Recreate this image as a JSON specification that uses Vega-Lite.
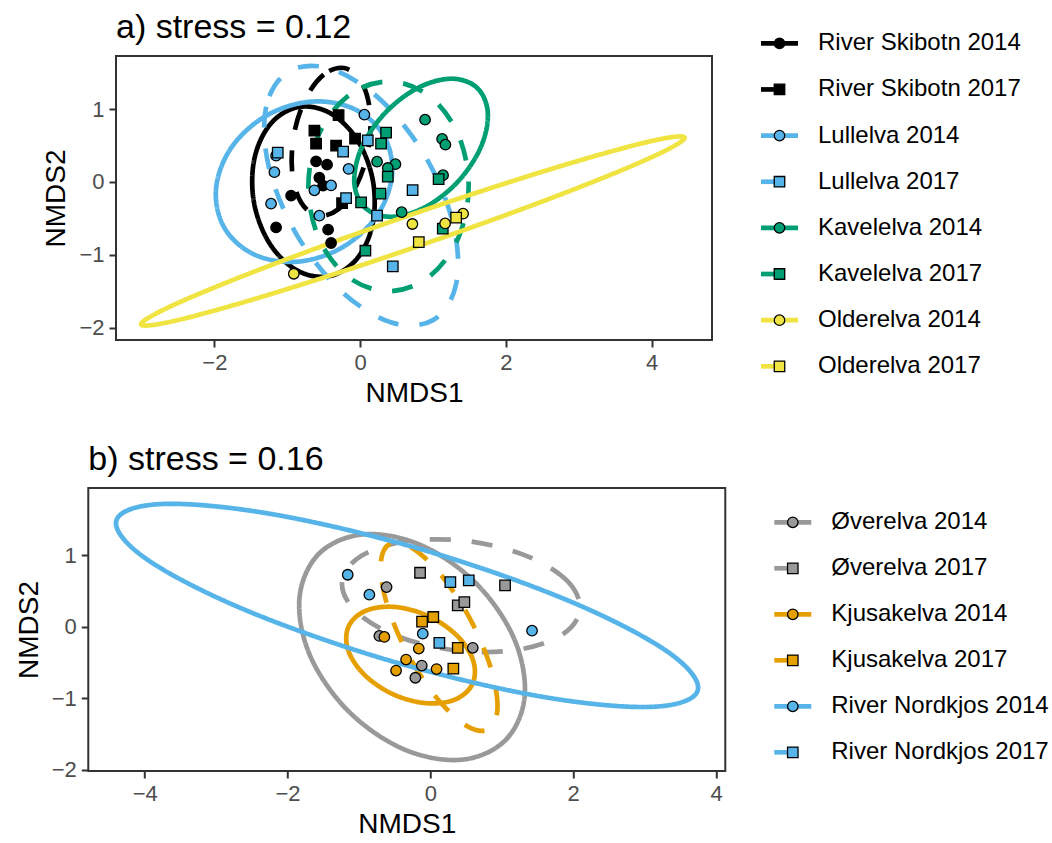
{
  "$schema": "https://vega.github.io/schema/vega-lite/v6.json",
  "background": "white",
  "padding": {"left": 14, "top": 10, "right": 2, "bottom": 3},
  "config": {
    "font": "Liberation Sans",
    "view": {"stroke": "#333333", "strokeWidth": 2},
    "axis": {
      "grid": false, "domain": false, "ticks": true,
      "tickColor": "#333333", "tickWidth": 2, "tickSize": 7,
      "labelColor": "#4D4D4D", "labelFontSize": 22, "labelPadding": 5,
      "titleFontSize": 28, "titleFontWeight": "normal", "titleColor": "black", "titlePadding": 6
    },
    "axisY": {"titlePadding": 8},
    "title": {"fontWeight": "normal", "color": "black", "anchor": "start", "frame": "group"}
  },
  "datasets": {
    "ellA": [
      {"g":"River Skibotn 2014","k":0,"x":-0.845,"y":1.029},{"g":"River Skibotn 2014","k":1,"x":-1.226,"y":0.801},{"g":"River Skibotn 2014","k":2,"x":-1.450,"y":0.323},{"g":"River Skibotn 2014","k":3,"x":-1.457,"y":-0.277},{"g":"River Skibotn 2014","k":4,"x":-1.245,"y":-0.839},{"g":"River Skibotn 2014","k":5,"x":-0.871,"y":-1.211},{"g":"River Skibotn 2014","k":6,"x":-0.435,"y":-1.295},{"g":"River Skibotn 2014","k":7,"x":-0.054,"y":-1.067},{"g":"River Skibotn 2014","k":8,"x":0.170,"y":-0.589},{"g":"River Skibotn 2014","k":9,"x":0.177,"y":0.011},{"g":"River Skibotn 2014","k":10,"x":-0.035,"y":0.573},{"g":"River Skibotn 2014","k":11,"x":-0.409,"y":0.945},
      {"g":"River Skibotn 2017","k":0,"x":-0.219,"y":1.565},{"g":"River Skibotn 2017","k":1,"x":-0.499,"y":1.474},{"g":"River Skibotn 2017","k":2,"x":-0.752,"y":1.136},{"g":"River Skibotn 2017","k":3,"x":-0.910,"y":0.641},{"g":"River Skibotn 2017","k":4,"x":-0.931,"y":0.122},{"g":"River Skibotn 2017","k":5,"x":-0.809,"y":-0.282},{"g":"River Skibotn 2017","k":6,"x":-0.577,"y":-0.463},{"g":"River Skibotn 2017","k":7,"x":-0.297,"y":-0.372},{"g":"River Skibotn 2017","k":8,"x":-0.044,"y":-0.034},{"g":"River Skibotn 2017","k":9,"x":0.114,"y":0.461},{"g":"River Skibotn 2017","k":10,"x":0.135,"y":0.980},{"g":"River Skibotn 2017","k":11,"x":0.013,"y":1.384},
      {"g":"Lullelva 2014","k":0,"x":0.325,"y":0.636},{"g":"Lullelva 2014","k":1,"x":-0.083,"y":1.003},{"g":"Lullelva 2014","k":2,"x":-0.674,"y":1.103},{"g":"Lullelva 2014","k":3,"x":-1.291,"y":0.908},{"g":"Lullelva 2014","k":4,"x":-1.768,"y":0.471},{"g":"Lullelva 2014","k":5,"x":-1.977,"y":-0.091},{"g":"Lullelva 2014","k":6,"x":-1.863,"y":-0.628},{"g":"Lullelva 2014","k":7,"x":-1.455,"y":-0.995},{"g":"Lullelva 2014","k":8,"x":-0.864,"y":-1.095},{"g":"Lullelva 2014","k":9,"x":-0.247,"y":-0.900},{"g":"Lullelva 2014","k":10,"x":0.230,"y":-0.463},{"g":"Lullelva 2014","k":11,"x":0.439,"y":0.099},
      {"g":"Lullelva 2017","k":0,"x":-0.973,"y":1.521},{"g":"Lullelva 2017","k":1,"x":-1.289,"y":1.033},{"g":"Lullelva 2017","k":2,"x":-1.255,"y":0.219},{"g":"Lullelva 2017","k":3,"x":-0.881,"y":-0.705},{"g":"Lullelva 2017","k":4,"x":-0.267,"y":-1.491},{"g":"Lullelva 2017","k":5,"x":0.421,"y":-1.927},{"g":"Lullelva 2017","k":6,"x":1.001,"y":-1.897},{"g":"Lullelva 2017","k":7,"x":1.317,"y":-1.409},{"g":"Lullelva 2017","k":8,"x":1.283,"y":-0.595},{"g":"Lullelva 2017","k":9,"x":0.909,"y":0.329},{"g":"Lullelva 2017","k":10,"x":0.295,"y":1.115},{"g":"Lullelva 2017","k":11,"x":-0.393,"y":1.551},
      {"g":"Kavelelva 2014","k":0,"x":1.605,"y":1.294},{"g":"Kavelelva 2014","k":1,"x":1.251,"y":1.418},{"g":"Kavelelva 2014","k":2,"x":0.786,"y":1.288},{"g":"Kavelelva 2014","k":3,"x":0.335,"y":0.939},{"g":"Kavelelva 2014","k":4,"x":0.018,"y":0.464},{"g":"Kavelelva 2014","k":5,"x":-0.079,"y":-0.009},{"g":"Kavelelva 2014","k":6,"x":0.069,"y":-0.354},{"g":"Kavelelva 2014","k":7,"x":0.423,"y":-0.478},{"g":"Kavelelva 2014","k":8,"x":0.888,"y":-0.348},{"g":"Kavelelva 2014","k":9,"x":1.339,"y":0.001},{"g":"Kavelelva 2014","k":10,"x":1.656,"y":0.476},{"g":"Kavelelva 2014","k":11,"x":1.753,"y":0.949},
      {"g":"Kavelelva 2017","k":0,"x":0.39,"y":1.38},{"g":"Kavelelva 2017","k":1,"x":-0.16,"y":1.187},{"g":"Kavelelva 2017","k":2,"x":-0.563,"y":0.66},{"g":"Kavelelva 2017","k":3,"x":-0.71,"y":-0.06},{"g":"Kavelelva 2017","k":4,"x":-0.563,"y":-0.78},{"g":"Kavelelva 2017","k":5,"x":-0.16,"y":-1.307},{"g":"Kavelelva 2017","k":6,"x":0.39,"y":-1.5},{"g":"Kavelelva 2017","k":7,"x":0.94,"y":-1.307},{"g":"Kavelelva 2017","k":8,"x":1.343,"y":-0.78},{"g":"Kavelelva 2017","k":9,"x":1.49,"y":-0.06},{"g":"Kavelelva 2017","k":10,"x":1.343,"y":0.66},{"g":"Kavelelva 2017","k":11,"x":0.94,"y":1.187},
      {"g":"Olderelva 2014","k":0,"x":4.454,"y":0.611},{"g":"Olderelva 2014","k":1,"x":3.918,"y":0.543},{"g":"Olderelva 2014","k":2,"x":2.527,"y":0.149},{"g":"Olderelva 2014","k":3,"x":0.652,"y":-0.465},{"g":"Olderelva 2014","k":4,"x":-1.203,"y":-1.135},{"g":"Olderelva 2014","k":5,"x":-2.542,"y":-1.681},{"g":"Olderelva 2014","k":6,"x":-3.006,"y":-1.957},{"g":"Olderelva 2014","k":7,"x":-2.470,"y":-1.889},{"g":"Olderelva 2014","k":8,"x":-1.079,"y":-1.495},{"g":"Olderelva 2014","k":9,"x":0.796,"y":-0.881},{"g":"Olderelva 2014","k":10,"x":2.651,"y":-0.211},{"g":"Olderelva 2014","k":11,"x":3.990,"y":0.335}
    ],
    "ptsA": [
      {"g":"River Skibotn 2014","x":-0.604,"y":0.283},{"g":"River Skibotn 2014","x":-0.453,"y":0.238},{"g":"River Skibotn 2014","x":-0.559,"y":0.059},{"g":"River Skibotn 2014","x":-0.508,"y":-0.051},{"g":"River Skibotn 2014","x":-0.947,"y":-0.188},{"g":"River Skibotn 2014","x":-1.153,"y":-0.624},{"g":"River Skibotn 2014","x":-0.439,"y":-0.655},{"g":"River Skibotn 2014","x":-0.398,"y":-0.838},
      {"g":"River Skibotn 2017","x":-0.627,"y":0.705},{"g":"River Skibotn 2017","x":-0.604,"y":0.526},{"g":"River Skibotn 2017","x":-0.295,"y":0.918},{"g":"River Skibotn 2017","x":-0.329,"y":0.499},{"g":"River Skibotn 2017","x":-0.069,"y":0.595},{"g":"River Skibotn 2017","x":-0.247,"y":-0.291},
      {"g":"Lullelva 2014","x":0.059,"y":0.924},{"g":"Lullelva 2014","x":-0.158,"y":0.179},{"g":"Lullelva 2014","x":-0.398,"y":-0.047},{"g":"Lullelva 2014","x":-0.627,"y":-0.115},{"g":"Lullelva 2014","x":-1.176,"y":0.135},{"g":"Lullelva 2014","x":-1.153,"y":0.361},{"g":"Lullelva 2014","x":-1.222,"y":-0.298},{"g":"Lullelva 2014","x":-0.559,"y":-0.463},
      {"g":"Lullelva 2017","x":-1.130,"y":0.402},{"g":"Lullelva 2017","x":-0.233,"y":0.416},{"g":"Lullelva 2017","x":0.106,"y":0.571},{"g":"Lullelva 2017","x":-0.192,"y":-0.223},{"g":"Lullelva 2017","x":0.233,"y":-0.463},{"g":"Lullelva 2017","x":0.449,"y":-1.159},{"g":"Lullelva 2017","x":0.721,"y":-0.113},
      {"g":"Kavelelva 2014","x":0.892,"y":0.856},{"g":"Kavelelva 2014","x":1.126,"y":0.591},{"g":"Kavelelva 2014","x":1.171,"y":0.512},{"g":"Kavelelva 2014","x":0.233,"y":0.279},{"g":"Kavelelva 2014","x":0.485,"y":0.245},{"g":"Kavelelva 2014","x":0.380,"y":0.192},{"g":"Kavelelva 2014","x":1.139,"y":0.093},{"g":"Kavelelva 2014","x":0.570,"y":-0.415},
      {"g":"Kavelelva 2017","x":0.357,"y":0.677},{"g":"Kavelelva 2017","x":0.288,"y":0.526},{"g":"Kavelelva 2017","x":0.380,"y":0.073},{"g":"Kavelelva 2017","x":0.279,"y":-0.161},{"g":"Kavelelva 2017","x":0.014,"y":-0.280},{"g":"Kavelelva 2017","x":0.073,"y":-0.944},{"g":"Kavelelva 2017","x":1.078,"y":0.038},{"g":"Kavelelva 2017","x":1.135,"y":-0.641},
      {"g":"Olderelva 2014","x":-0.910,"y":-1.260},{"g":"Olderelva 2014","x":0.718,"y":-0.577},{"g":"Olderelva 2014","x":1.167,"y":-0.569},{"g":"Olderelva 2014","x":1.414,"y":-0.435},
      {"g":"Olderelva 2017","x":1.318,"y":-0.490},{"g":"Olderelva 2017","x":0.806,"y":-0.827}
    ],
    "ellB": [
      {"g":"Øverelva 2014","k":0,"x":1.049,"y":-1.591},{"g":"Øverelva 2014","k":1,"x":1.321,"y":-0.969},{"g":"Øverelva 2014","k":2,"x":1.171,"y":-0.164},{"g":"Øverelva 2014","k":3,"x":0.638,"y":0.608},{"g":"Øverelva 2014","k":4,"x":-0.134,"y":1.141},{"g":"Øverelva 2014","k":5,"x":-0.939,"y":1.291},{"g":"Øverelva 2014","k":6,"x":-1.561,"y":1.019},{"g":"Øverelva 2014","k":7,"x":-1.833,"y":0.397},{"g":"Øverelva 2014","k":8,"x":-1.683,"y":-0.408},{"g":"Øverelva 2014","k":9,"x":-1.150,"y":-1.180},{"g":"Øverelva 2014","k":10,"x":-0.378,"y":-1.713},{"g":"Øverelva 2014","k":11,"x":0.427,"y":-1.863},
      {"g":"Øverelva 2017","k":0,"x":2.095,"y":0.228},{"g":"Øverelva 2017","k":1,"x":1.919,"y":0.637},{"g":"Øverelva 2017","k":2,"x":1.344,"y":0.991},{"g":"Øverelva 2017","k":3,"x":0.524,"y":1.196},{"g":"Øverelva 2017","k":4,"x":-0.322,"y":1.196},{"g":"Øverelva 2017","k":5,"x":-0.965,"y":0.992},{"g":"Øverelva 2017","k":6,"x":-1.235,"y":0.638},{"g":"Øverelva 2017","k":7,"x":-1.059,"y":0.229},{"g":"Øverelva 2017","k":8,"x":-0.484,"y":-0.125},{"g":"Øverelva 2017","k":9,"x":0.336,"y":-0.330},{"g":"Øverelva 2017","k":10,"x":1.182,"y":-0.330},{"g":"Øverelva 2017","k":11,"x":1.825,"y":-0.126},
      {"g":"Kjusakelva 2014","k":0,"x":0.589,"y":-0.802},{"g":"Kjusakelva 2014","k":1,"x":0.600,"y":-0.476},{"g":"Kjusakelva 2014","k":2,"x":0.376,"y":-0.129},{"g":"Kjusakelva 2014","k":3,"x":-0.023,"y":0.146},{"g":"Kjusakelva 2014","k":4,"x":-0.490,"y":0.275},{"g":"Kjusakelva 2014","k":5,"x":-0.900,"y":0.224},{"g":"Kjusakelva 2014","k":6,"x":-1.143,"y":0.006},{"g":"Kjusakelva 2014","k":7,"x":-1.154,"y":-0.320},{"g":"Kjusakelva 2014","k":8,"x":-0.930,"y":-0.667},{"g":"Kjusakelva 2014","k":9,"x":-0.531,"y":-0.942},{"g":"Kjusakelva 2014","k":10,"x":-0.064,"y":-1.071},{"g":"Kjusakelva 2014","k":11,"x":0.346,"y":-1.020},
      {"g":"Kjusakelva 2017","k":0,"x":0.812,"y":-1.438},{"g":"Kjusakelva 2017","k":1,"x":0.940,"y":-1.147},{"g":"Kjusakelva 2017","k":2,"x":0.849,"y":-0.586},{"g":"Kjusakelva 2017","k":3,"x":0.563,"y":0.095},{"g":"Kjusakelva 2017","k":4,"x":0.159,"y":0.713},{"g":"Kjusakelva 2017","k":5,"x":-0.255,"y":1.102},{"g":"Kjusakelva 2017","k":6,"x":-0.568,"y":1.158},{"g":"Kjusakelva 2017","k":7,"x":-0.696,"y":0.867},{"g":"Kjusakelva 2017","k":8,"x":-0.605,"y":0.306},{"g":"Kjusakelva 2017","k":9,"x":-0.319,"y":-0.375},{"g":"Kjusakelva 2017","k":10,"x":0.085,"y":-0.993},{"g":"Kjusakelva 2017","k":11,"x":0.499,"y":-1.382},
      {"g":"River Nordkjos 2014","k":0,"x":3.744,"y":-0.893},{"g":"River Nordkjos 2014","k":1,"x":3.313,"y":-0.345},{"g":"River Nordkjos 2014","k":2,"x":1.906,"y":0.375},{"g":"River Nordkjos 2014","k":3,"x":-0.099,"y":1.074},{"g":"River Nordkjos 2014","k":4,"x":-2.164,"y":1.565},{"g":"River Nordkjos 2014","k":5,"x":-3.737,"y":1.717},{"g":"River Nordkjos 2014","k":6,"x":-4.396,"y":1.487},{"g":"River Nordkjos 2014","k":7,"x":-3.965,"y":0.939},{"g":"River Nordkjos 2014","k":8,"x":-2.558,"y":0.219},{"g":"River Nordkjos 2014","k":9,"x":-0.553,"y":-0.480},{"g":"River Nordkjos 2014","k":10,"x":1.512,"y":-0.971},{"g":"River Nordkjos 2014","k":11,"x":3.085,"y":-1.123}
    ],
    "ptsB": [
      {"g":"Øverelva 2014","x":-0.613,"y":0.554},{"g":"Øverelva 2014","x":-0.714,"y":-0.130},{"g":"Øverelva 2014","x":-0.120,"y":-0.545},{"g":"Øverelva 2014","x":-0.210,"y":-0.715},{"g":"Øverelva 2014","x":0.594,"y":-0.296},
      {"g":"Øverelva 2017","x":-0.144,"y":0.754},{"g":"Øverelva 2017","x":0.384,"y":0.297},{"g":"Øverelva 2017","x":0.476,"y":0.342},{"g":"Øverelva 2017","x":1.046,"y":0.577},
      {"g":"Kjusakelva 2014","x":-0.644,"y":-0.144},{"g":"Kjusakelva 2014","x":-0.162,"y":-0.307},{"g":"Kjusakelva 2014","x":-0.340,"y":-0.461},{"g":"Kjusakelva 2014","x":-0.480,"y":-0.615},{"g":"Kjusakelva 2014","x":0.087,"y":-0.594},
      {"g":"Kjusakelva 2017","x":-0.116,"y":0.070},{"g":"Kjusakelva 2017","x":0.041,"y":0.135},{"g":"Kjusakelva 2017","x":0.384,"y":-0.296},{"g":"Kjusakelva 2017","x":0.322,"y":-0.587},
      {"g":"River Nordkjos 2014","x":-1.157,"y":0.726},{"g":"River Nordkjos 2014","x":-0.854,"y":0.447},{"g":"River Nordkjos 2014","x":-0.106,"y":-0.098},{"g":"River Nordkjos 2014","x":1.424,"y":-0.056},
      {"g":"River Nordkjos 2017","x":0.280,"y":0.624},{"g":"River Nordkjos 2017","x":0.538,"y":0.647},{"g":"River Nordkjos 2017","x":0.126,"y":-0.226}
    ],
    "legA": [
      {"g":"River Skibotn 2014"},{"g":"River Skibotn 2017"},{"g":"Lullelva 2014"},{"g":"Lullelva 2017"},
      {"g":"Kavelelva 2014"},{"g":"Kavelelva 2017"},{"g":"Olderelva 2014"},{"g":"Olderelva 2017"}
    ],
    "legB": [
      {"g":"Øverelva 2014"},{"g":"Øverelva 2017"},{"g":"Kjusakelva 2014"},{"g":"Kjusakelva 2017"},
      {"g":"River Nordkjos 2014"},{"g":"River Nordkjos 2017"}
    ]
  },
  "center": true,
  "spacing": 34,
  "vconcat": [
    {
      "spacing": 45,
      "hconcat": [
        {
          "width": 596, "height": 284,
          "title": {"text": "a) stress = 0.12", "fontSize": 34, "offset": 11},
          "layer": [
            {
              "data": {"name": "ellA"},
              "mark": {"type": "line", "interpolate": "cardinal-closed", "strokeWidth": 4.7, "clip": true},
              "encoding": {
                "x": {"field": "x", "type": "quantitative", "scale": {"domain": [-3.35, 4.83], "nice": false, "zero": false}, "axis": {"values": [-2, 0, 2, 4], "format": "d", "title": "NMDS1"}},
                "y": {"field": "y", "type": "quantitative", "scale": {"domain": [-2.17, 1.73], "nice": false, "zero": false}, "axis": {"values": [-2, -1, 0, 1], "format": "d", "title": "NMDS2"}},
                "color": {"field": "g", "type": "nominal", "legend": null, "scale": {"domain": ["River Skibotn 2014","River Skibotn 2017","Lullelva 2014","Lullelva 2017","Kavelelva 2014","Kavelelva 2017","Olderelva 2014","Olderelva 2017","Øverelva 2014","Øverelva 2017","Kjusakelva 2014","Kjusakelva 2017","River Nordkjos 2014","River Nordkjos 2017"], "range": ["#000000","#000000","#56B4E9","#56B4E9","#009E73","#009E73","#F0E442","#F0E442","#999999","#999999","#E69F00","#E69F00","#56B4E9","#56B4E9"]}},
                "strokeDash": {"field": "g", "type": "nominal", "legend": null, "scale": {"domain": ["River Skibotn 2014","River Skibotn 2017","Lullelva 2014","Lullelva 2017","Kavelelva 2014","Kavelelva 2017","Olderelva 2014","Olderelva 2017","Øverelva 2014","Øverelva 2017","Kjusakelva 2014","Kjusakelva 2017","River Nordkjos 2014","River Nordkjos 2017"], "range": [[1,0],[21,21],[1,0],[21,21],[1,0],[21,21],[1,0],[21,21],[1,0],[21,21],[1,0],[21,21],[1,0],[21,21]]}},
                "order": {"field": "k", "type": "quantitative"}
              }
            },
            {
              "data": {"name": "ptsA"},
              "mark": {"type": "point", "filled": true, "size": 110, "stroke": "black", "strokeWidth": 1.3, "opacity": 1},
              "encoding": {
                "x": {"field": "x", "type": "quantitative"},
                "y": {"field": "y", "type": "quantitative"},
                "color": {"field": "g", "type": "nominal", "legend": null},
                "shape": {"field": "g", "type": "nominal", "legend": null, "scale": {"domain": ["River Skibotn 2014","River Skibotn 2017","Lullelva 2014","Lullelva 2017","Kavelelva 2014","Kavelelva 2017","Olderelva 2014","Olderelva 2017","Øverelva 2014","Øverelva 2017","Kjusakelva 2014","Kjusakelva 2017","River Nordkjos 2014","River Nordkjos 2017"], "range": ["circle","square","circle","square","circle","square","circle","square","circle","square","circle","square","circle","square"]}}
              }
            }
          ]
        },
        {
          "width": 260, "height": 284,
          "view": {"stroke": null},
          "data": {"name": "legA"},
          "encoding": {
            "y": {"field": "g", "type": "nominal", "axis": null, "scale": {"type": "point", "domain": ["River Skibotn 2014","River Skibotn 2017","Lullelva 2014","Lullelva 2017","Kavelelva 2014","Kavelelva 2017","Olderelva 2014","Olderelva 2017"], "range": [-12.7, 310.3], "padding": 0}}
          },
          "layer": [
            {
              "mark": {"type": "rule", "strokeWidth": 4.7},
              "encoding": {
                "x": {"datum": 0, "type": "quantitative", "axis": null, "scale": {"domain": [0, 260], "nice": false, "zero": false}},
                "x2": {"datum": 37},
                "color": {"field": "g", "type": "nominal", "legend": null},
                "strokeDash": {"field": "g", "type": "nominal", "legend": null}
              }
            },
            {
              "mark": {"type": "point", "filled": true, "size": 110, "stroke": "black", "strokeWidth": 1.3, "opacity": 1},
              "encoding": {
                "x": {"datum": 18.5, "type": "quantitative", "axis": null},
                "color": {"field": "g", "type": "nominal", "legend": null},
                "shape": {"field": "g", "type": "nominal", "legend": null}
              }
            },
            {
              "mark": {"type": "text", "align": "left", "baseline": "middle", "fontSize": 24, "color": "black"},
              "encoding": {
                "x": {"datum": 57, "type": "quantitative", "axis": null},
                "text": {"field": "g", "type": "nominal"}
              }
            }
          ]
        }
      ]
    },
    {
      "spacing": 45,
      "hconcat": [
        {
          "width": 637, "height": 283,
          "title": {"text": "b) stress = 0.16", "fontSize": 34, "offset": 11},
          "layer": [
            {
              "data": {"name": "ellB"},
              "mark": {"type": "line", "interpolate": "cardinal-closed", "strokeWidth": 4.7, "clip": true},
              "encoding": {
                "x": {"field": "x", "type": "quantitative", "scale": {"domain": [-4.79, 4.13], "nice": false, "zero": false}, "axis": {"values": [-4, -2, 0, 2, 4], "format": "d", "title": "NMDS1"}},
                "y": {"field": "y", "type": "quantitative", "scale": {"domain": [-2.02, 1.94], "nice": false, "zero": false}, "axis": {"values": [-2, -1, 0, 1], "format": "d", "title": "NMDS2"}},
                "color": {"field": "g", "type": "nominal", "legend": null},
                "strokeDash": {"field": "g", "type": "nominal", "legend": null},
                "order": {"field": "k", "type": "quantitative"}
              }
            },
            {
              "data": {"name": "ptsB"},
              "mark": {"type": "point", "filled": true, "size": 110, "stroke": "black", "strokeWidth": 1.3, "opacity": 1},
              "encoding": {
                "x": {"field": "x", "type": "quantitative"},
                "y": {"field": "y", "type": "quantitative"},
                "color": {"field": "g", "type": "nominal", "legend": null},
                "shape": {"field": "g", "type": "nominal", "legend": null}
              }
            }
          ]
        },
        {
          "width": 274, "height": 283,
          "view": {"stroke": null},
          "data": {"name": "legB"},
          "encoding": {
            "y": {"field": "g", "type": "nominal", "axis": null, "scale": {"type": "point", "domain": ["Øverelva 2014","Øverelva 2017","Kjusakelva 2014","Kjusakelva 2017","River Nordkjos 2014","River Nordkjos 2017"], "range": [34.3, 264.3], "padding": 0}}
          },
          "layer": [
            {
              "mark": {"type": "rule", "strokeWidth": 4.7},
              "encoding": {
                "x": {"datum": 0, "type": "quantitative", "axis": null, "scale": {"domain": [0, 274], "nice": false, "zero": false}},
                "x2": {"datum": 37},
                "color": {"field": "g", "type": "nominal", "legend": null},
                "strokeDash": {"field": "g", "type": "nominal", "legend": null}
              }
            },
            {
              "mark": {"type": "point", "filled": true, "size": 110, "stroke": "black", "strokeWidth": 1.3, "opacity": 1},
              "encoding": {
                "x": {"datum": 18.5, "type": "quantitative", "axis": null},
                "color": {"field": "g", "type": "nominal", "legend": null},
                "shape": {"field": "g", "type": "nominal", "legend": null}
              }
            },
            {
              "mark": {"type": "text", "align": "left", "baseline": "middle", "fontSize": 24, "color": "black"},
              "encoding": {
                "x": {"datum": 57, "type": "quantitative", "axis": null},
                "text": {"field": "g", "type": "nominal"}
              }
            }
          ]
        }
      ]
    }
  ]
}
